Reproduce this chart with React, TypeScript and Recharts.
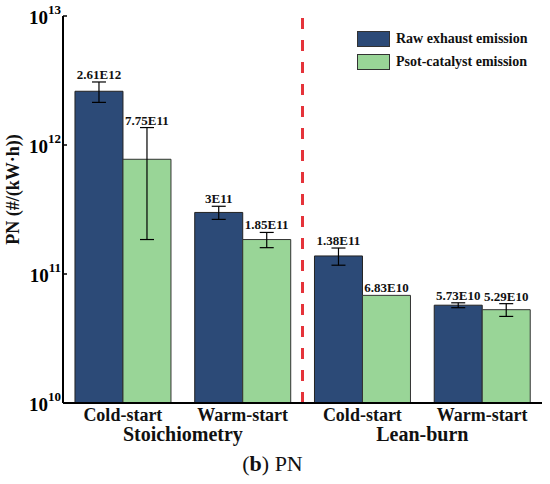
import React from 'react';
import { BarChart, Bar, XAxis, YAxis, ErrorBar, LabelList, Legend, ReferenceLine } from 'recharts';

const categories = ['Cold-start', 'Warm-start', 'Cold-start', 'Warm-start'];
const groupNames = ['Stoichiometry', 'Lean-burn'];
const seriesNames = ['Raw exhaust emission', 'Psot-catalyst emission'];
const rawValues = [2.61e12, 3e11, 1.38e11, 5.73e10];
const rawErrors = [0.47e12, 0.35e11, 0.21e11, 0.25e10];
const rawLabels = ['2.61E12', '3E11', '1.38E11', '5.73E10'];
const postValues = [7.75e11, 1.85e11, 6.83e10, 5.29e10];
const postErrors = [5.9e11, 0.25e11, 0, 0.6e10];
const postLabels = ['7.75E11', '1.85E11', '6.83E10', '5.29E10'];
const yTicks = [1e10, 1e11, 1e12, 1e13];

const data = categories.map((name, i) => ({
  key: `${groupNames[Math.floor(i / 2)]} ${name}`,
  raw: rawValues[i],
  rawErr: rawErrors[i],
  post: postValues[i],
  postErr: postErrors[i],
}));

const FONT = '"Liberation Serif", "Times New Roman", serif';
const PLOT_TOP = 16;
const DECADES = 3;

const BLUE = '#2c4a77';
const GREEN = '#99d597';

const YTick = ({ x, y, payload }: any) => {
  const exp = Math.round(Math.log10(payload.value));
  return (
    <g>
      <line x1={x + 2} x2={x + 6} y1={y} y2={y} stroke="#000" strokeWidth={1.5} />
      <text x={x} y={y + 8} textAnchor="end" fontFamily={FONT} fontWeight="bold" fontSize={19} fill="#000">
        <tspan>10</tspan>
        <tspan dy={-10} fontSize={13}>{exp}</tspan>
      </text>
    </g>
  );
};

const XTick = ({ x, y, index }: any) => (
  <g>
    <text x={x} y={y + 18} textAnchor="middle" fontFamily={FONT} fontWeight="bold" fontSize={18} fill="#111">
      {categories[index]}
    </text>
    {index % 2 === 0 && (
      <text x={x + 60} y={y + 38} textAnchor="middle" fontFamily={FONT} fontWeight="bold" fontSize={20} fill="#111">
        {groupNames[index / 2]}
      </text>
    )}
  </g>
);

// label sits just above the top of the error bar
const makeValueLabel = (labels: string[], values: number[], errors: number[]) => (props: any) => {
  const { x, y, width, height, index } = props;
  const bottom = y + height;
  const perDecade = (bottom - PLOT_TOP) / DECADES;
  const v = values[index];
  const top = y - Math.log10((v + errors[index]) / v) * perDecade;
  return (
    <text x={x + width / 2} y={top - 3} textAnchor="middle" fontFamily={FONT} fontWeight="bold" fontSize={13} fill="#111">
      {labels[index]}
    </text>
  );
};

const LegendBox = ({ payload }: any) => {
  const items = [...(payload || [])].sort(
    (a: any, b: any) => seriesNames.indexOf(a.value) - seriesNames.indexOf(b.value)
  );
  return (
    <div style={{ fontFamily: FONT, fontWeight: 'bold', fontSize: 14, color: '#111' }}>
      {items.map((item: any) => (
        <div key={item.value} style={{ display: 'flex', alignItems: 'center', height: 23 }}>
          <span style={{ width: 31, height: 14, background: item.color, border: '1px solid #333', marginRight: 6 }} />
          <span>{item.value}</span>
        </div>
      ))}
    </div>
  );
};

const YLabel = ({ viewBox }: any) => {
  const cx = 13;
  const cy = viewBox.y + viewBox.height / 2 - 20;
  return (
    <text x={cx} y={cy} transform={`rotate(-90, ${cx}, ${cy})`} textAnchor="middle" dominantBaseline="central"
      fontFamily={FONT} fontWeight="bold" fontSize={18} fill="#111">
      PN (#/(kW·h))
    </text>
  );
};

export default function App() {
  return (
    <div style={{ position: 'absolute', left: 0, top: 0, width: 550, height: 484, background: '#fff' }}>
      <BarChart width={550} height={484} data={data} margin={{ top: PLOT_TOP, right: 8, left: 0, bottom: 21 }}
        barCategoryGap="10%" barGap={0}>
        <XAxis dataKey="key" height={60} tickLine={false} tickSize={0} tickMargin={0} interval={0}
          axisLine={{ stroke: '#000', strokeWidth: 2 }} tick={<XTick />} />
        <XAxis xAxisId="frame" type="number" domain={[0, 1]} allowDataOverflow orientation="top" height={0}
          tick={false} tickLine={false} axisLine={{ stroke: '#000', strokeWidth: 2 }} />
        <YAxis scale="log" domain={[1e10, 1e13]} ticks={yTicks} allowDataOverflow width={63} tickLine={false}
          tickSize={0} tickMargin={2} axisLine={{ stroke: '#000', strokeWidth: 2 }} tick={<YTick />}
          label={<YLabel />} />
        <YAxis yAxisId="frame" orientation="right" domain={[0, 1]} width={0} tick={false} tickLine={false}
          axisLine={{ stroke: '#000', strokeWidth: 2 }} />
        <Legend verticalAlign="middle" align="center" layout="vertical" content={<LegendBox />}
          wrapperStyle={{ left: 357, top: 27, width: 190 }} />
        <ReferenceLine x={data[2].key} position="start" stroke="#e5333a" strokeWidth={3} strokeDasharray="11 11" />
        <Bar dataKey="raw" name={seriesNames[0]} fill={BLUE} stroke="#222" strokeWidth={1} isAnimationActive={false}>
          <ErrorBar dataKey="rawErr" width={7} stroke="#000" strokeWidth={1.2} />
          <LabelList dataKey="raw" content={makeValueLabel(rawLabels, rawValues, rawErrors)} />
        </Bar>
        <Bar dataKey="post" name={seriesNames[1]} fill={GREEN} stroke="#333" strokeWidth={1} isAnimationActive={false}>
          <ErrorBar dataKey="postErr" width={7} stroke="#000" strokeWidth={1.2} />
          <LabelList dataKey="post" content={makeValueLabel(postLabels, postValues, postErrors)} />
        </Bar>
      </BarChart>
      <div style={{ position: 'absolute', left: 0, width: 545, top: 451, textAlign: 'center', fontFamily: FONT, fontSize: 22, color: '#111' }}>
        (<b>b</b>) PN
      </div>
    </div>
  );
}
